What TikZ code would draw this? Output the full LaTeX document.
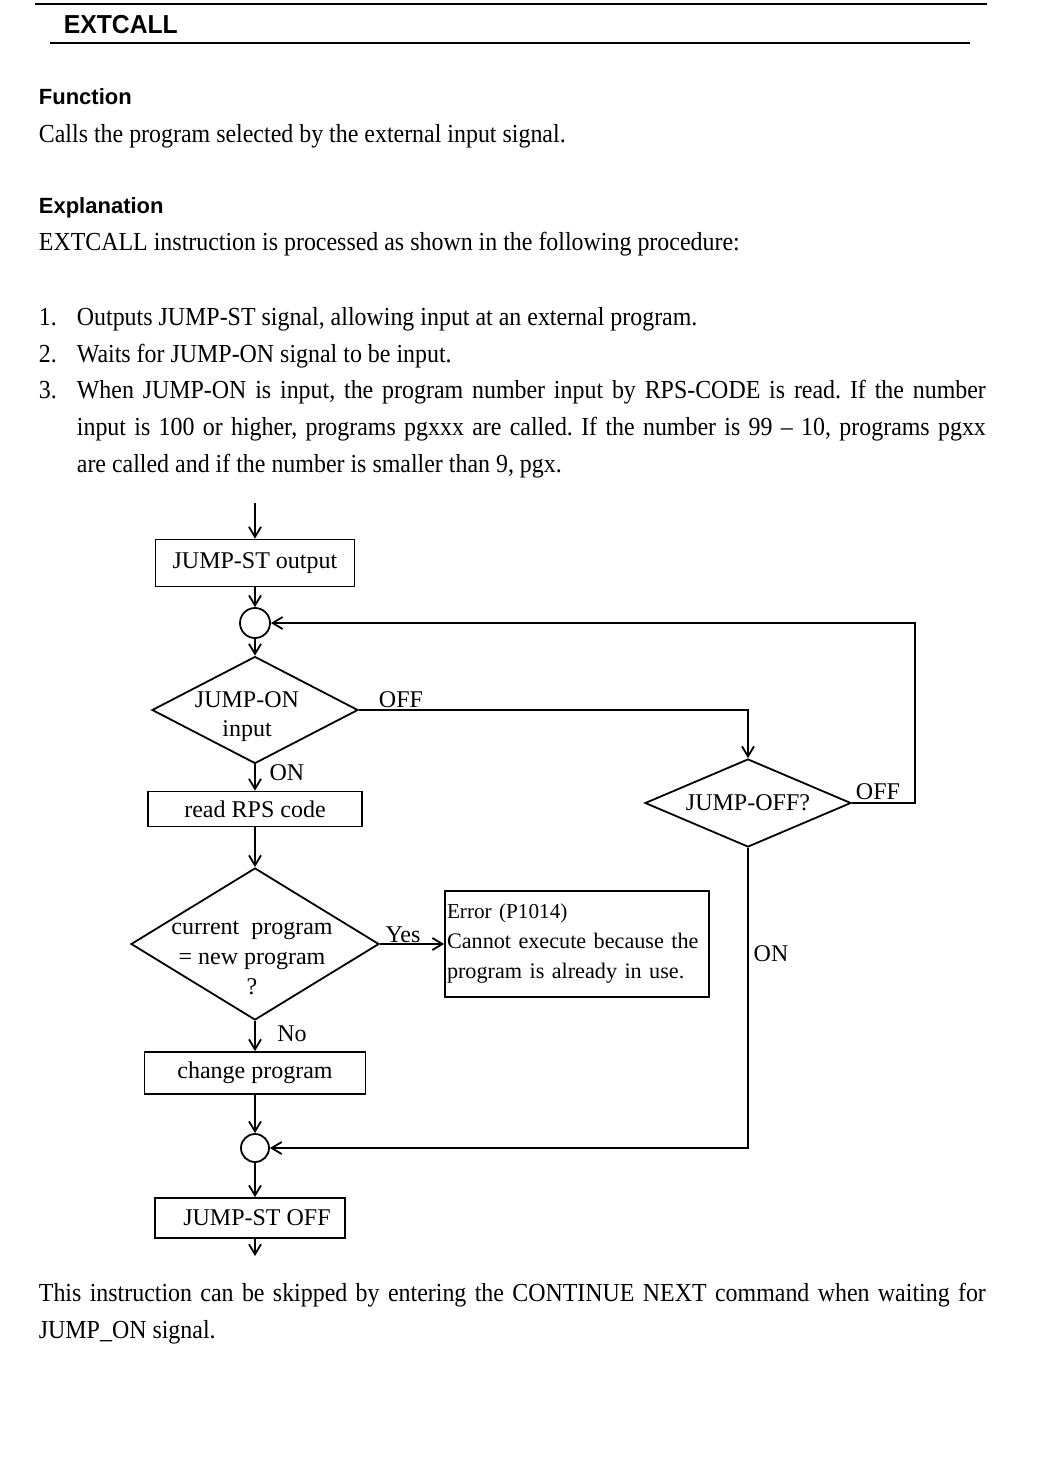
\documentclass[tikz,border=0pt]{standalone}
\usepackage{fontspec}
\setmainfont{Liberation Serif}
\newfontfamily\bodyfont[FakeStretch=0.92]{Liberation Serif}
\newfontfamily\headfont{Liberation Sans}
\newfontfamily\titlefont[FakeStretch=0.95]{Liberation Sans}
\usetikzlibrary{arrows.meta, shapes.geometric}
% one justified line of a given width
\newcommand{\fullline}[2]{\hbox to #1{\frenchspacing\spaceskip=.25em plus 2em minus .08em\relax #2}}

\begin{document}
\begin{tikzpicture}[x=0.5pt, y=-0.5pt, line width=0.9pt, >={Straight Barb[length=5pt, width=6pt]},
  every node/.style={inner sep=0pt, font=\fontsize{12}{14.5}\selectfont},
  body/.style={anchor=base west, font=\bodyfont\fontsize{13}{16}\selectfont},
  head/.style={anchor=base west, font=\headfont\bfseries\fontsize{11}{13}\selectfont},
  box/.style={draw, rectangle},
  dia/.style={draw, diamond},
  joint/.style={draw, circle, minimum size=15pt}]

  \useasboundingbox (0,0) rectangle (1038,1472);

  % page head
  \draw[line width=1.2pt] (35,4) -- (987,4);
  \node[anchor=base west, font=\titlefont\bfseries\fontsize{13}{15}\selectfont] (title) at (63,33) {EXTCALL};
  \draw[line width=1pt] (50,43) -- (970,43);

  \node[head] (fhead) at (38,104) {Function};
  \node[body] (ftext) at (38,142) {Calls the program selected by the external input signal.};
  \node[head] (ehead) at (38,213) {Explanation};
  \node[body] (etext) at (38,250) {EXTCALL instruction is processed as shown in the following procedure:};

  % steps
  \node[body] (n1) at (38,325) {1.};
  \node[body] (s1) at (76,325) {Outputs JUMP-ST signal, allowing input at an external program.};
  \node[body] (n2) at (38,362) {2.};
  \node[body] (s2) at (76,362) {Waits for JUMP-ON signal to be input.};
  \node[body] (n3) at (38,398) {3.};
  \node[body] (s3a) at (76,398) {\fullline{454.5pt}{When JUMP-ON is input, the program number input by RPS-CODE is read. If the number}};
  \node[body] (s3b) at (76,435) {\fullline{454.5pt}{input is 100 or higher, programs pgxxx are called. If the number is 99 – 10, programs pgxx}};
  \node[body] (s3c) at (76,472) {are called and if the number is smaller than 9, pgx.};

  % flow chart
  \coordinate (entry) at (255,503);
  \node[box, minimum width=99.5pt, minimum height=23.5pt] (stout) at (255,563) {JUMP-ST output};
  \node[joint] (j1) at (255,623) {};
  \node[dia, minimum width=103pt, minimum height=53.5pt,
    label={[align=center, xshift=-4pt, yshift=-3.5pt]center:JUMP-ON\\input}] (jon) at (255,710) {};
  \node[box, minimum width=107pt, minimum height=17.5pt] (rps) at (255,809) {read RPS code};
  \node[dia, minimum width=124pt, minimum height=76pt,
    label={[align=center, xshift=-1.5pt, yshift=-7pt, font=\fontsize{12}{15}\selectfont]center:current\ \ program\\= new program\\?}] (same) at (255,944) {};
  \node[box, minimum width=132pt, minimum height=53pt, text width=130pt, align=left,
    font=\fontsize{11.1}{15}\selectfont] (err) at (577,944)
    {{\fontsize{10.6}{15}\selectfont Error (P1014)}\\Cannot execute because the\\program is already in use.};
  \node[box, minimum width=110.5pt, minimum height=21pt] (chg) at (255,1073) {change program};
  \node[joint, minimum size=14pt] (j2) at (255,1148) {};
  \node[box, minimum width=95pt, minimum height=20pt] (stoff) at (250,1218) {\hspace{7pt}JUMP-ST OFF};
  \coordinate (exit) at (255,1256);

  \node[dia, minimum width=103pt, minimum height=44pt, aspect=2.34] (joff) at (748,803) {JUMP-OFF?};
  \coordinate (back) at (915,623);

  \draw[->] (entry) -- (stout);
  \draw[->] (stout) -- (j1);
  \draw[->] (j1) -- (jon);
  \draw[->] (jon) -- (rps);
  \draw[->] (rps) -- (same);
  \draw[->] (same) -- (chg);
  \draw[->] (chg) -- (j2);
  \draw[->] (j2.south) -- (j2.south |- stoff.north);
  \draw[->] (stoff.south -| exit) -- (exit);
  \draw[->] (same.east) -- (err.west);
  \draw[->] (jon.east) -| (joff.north);
  \draw[->] (joff.east) -| (back) -- (j1.east);
  \draw[->] (joff.south) |- (j2.east);

  \node (off1) at (401,700) {OFF};
  \node (on1) at (287,773) {ON};
  \node (off2) at (878,792) {OFF};
  \node (yes) at (403,935) {Yes};
  \node (no) at (292,1034) {No};
  \node (on2) at (771,954) {ON};

  % note
  \node[body] (note1) at (38,1301) {\fullline{473.5pt}{This instruction can be skipped by entering the CONTINUE NEXT command when waiting for}};
  \node[body] (note2) at (38,1338) {JUMP\_ON signal.};

\end{tikzpicture}
\end{document}
